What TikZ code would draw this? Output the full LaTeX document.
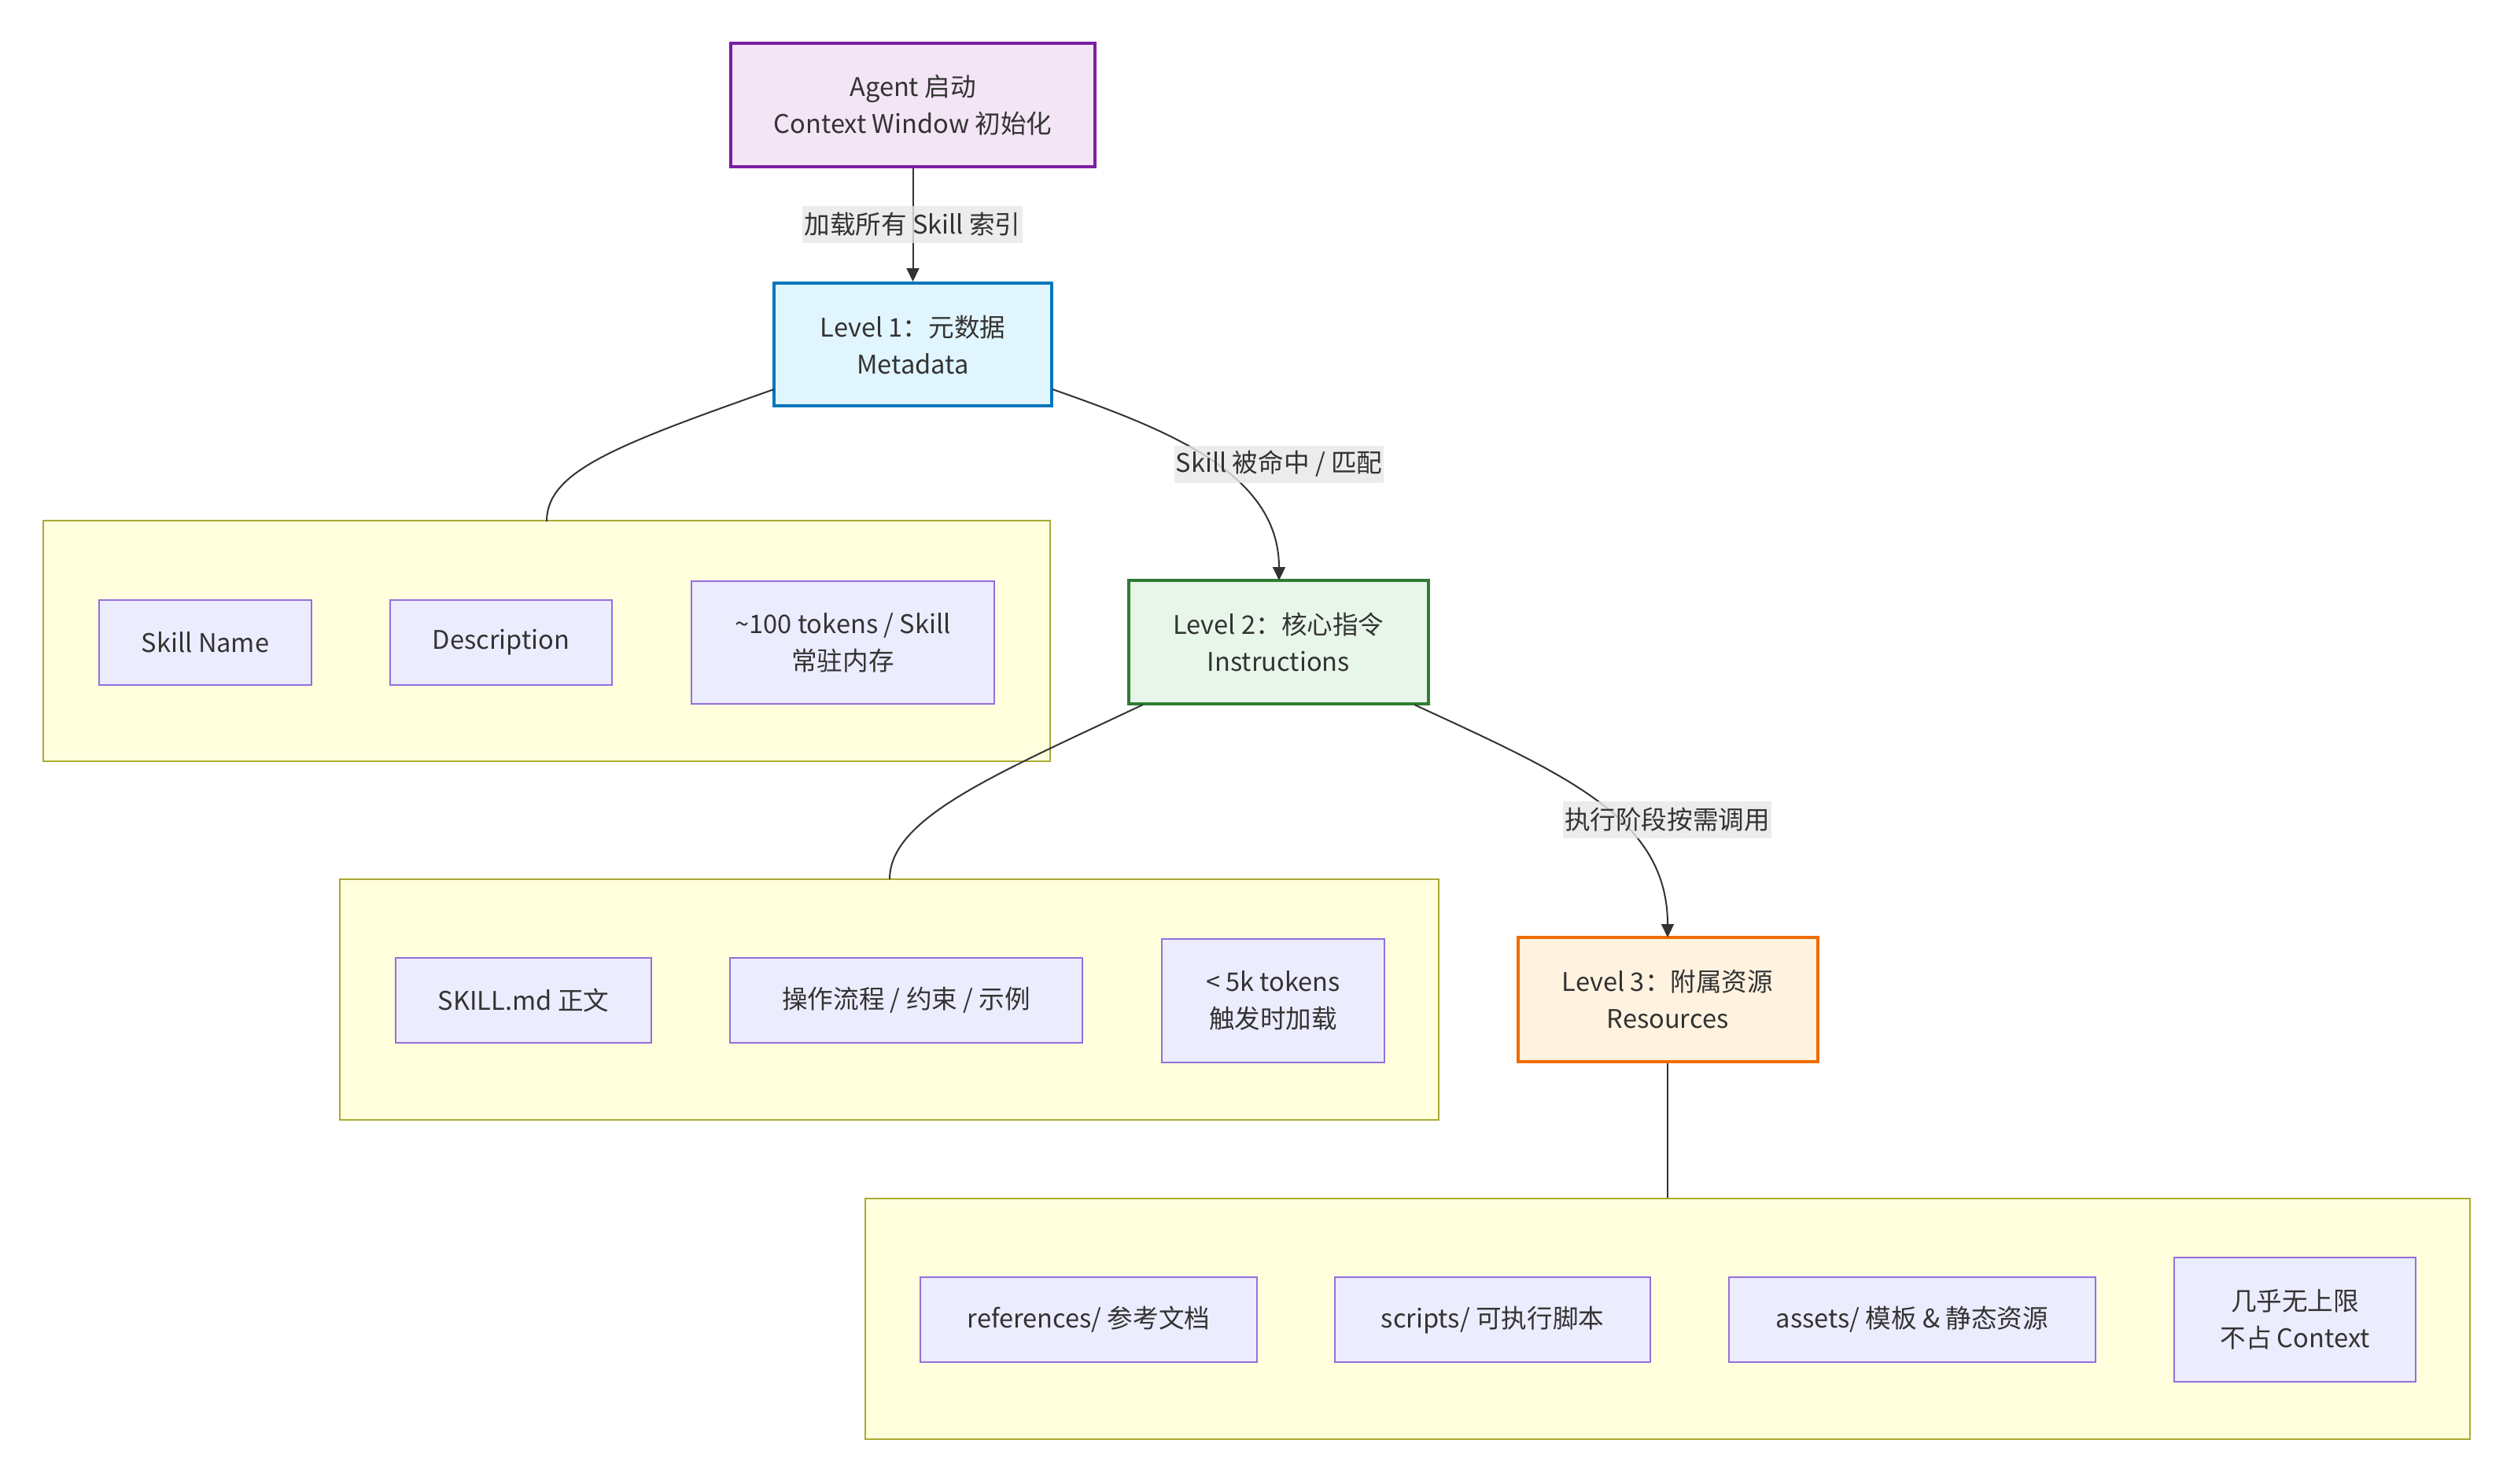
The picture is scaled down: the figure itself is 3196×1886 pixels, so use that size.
\documentclass[tikz,border=0pt]{standalone}
\usepackage{fontspec}
\setmainfont{Noto Sans CJK SC}
\usetikzlibrary{arrows.meta}
\definecolor{ink}{HTML}{333333}
\definecolor{agentfill}{HTML}{F3E5F5}\definecolor{agentdraw}{HTML}{7B1FA2}
\definecolor{lonefill}{HTML}{E1F5FE}\definecolor{lonedraw}{HTML}{0277BD}
\definecolor{ltwofill}{HTML}{E8F5E9}\definecolor{ltwodraw}{HTML}{2E7D32}
\definecolor{lthreefill}{HTML}{FFF3E0}\definecolor{lthreedraw}{HTML}{EF6C00}
\definecolor{grpfill}{HTML}{FFFFDE}\definecolor{grpdraw}{HTML}{AAAA33}
\definecolor{itemfill}{HTML}{ECECFF}\definecolor{itemdraw}{HTML}{9370DB}
\definecolor{lblbg}{HTML}{E8E8E8}
\begin{document}
\begin{tikzpicture}[x=0.5pt,y=-0.5pt,
  every node/.style={text=ink,font=\fontsize{16.3}{23.5}\selectfont,align=center,inner sep=0pt},
  lvlbox/.style={draw,line width=2pt,rectangle},
  grpbox/.style={draw=grpdraw,fill=grpfill,line width=1pt,rectangle},
  itembox/.style={draw=itemdraw,fill=itemfill,line width=1pt,rectangle},
  edgelbl/.style={fill=lblbg,fill opacity=0.8,text opacity=1,inner xsep=1pt,minimum height=23.5pt},
  conn/.style={draw=ink,line width=1pt},
  arr/.style={conn,-{Triangle[length=8.5pt,width=8pt]}}]
\fill[white] (0,0) rectangle (3196,1886);
\useasboundingbox (0,0) rectangle (3196,1886);

% groups
\node[grpbox,minimum width=640pt,minimum height=153pt] (g1) at (695,815) {};
\node[grpbox,minimum width=698.5pt,minimum height=153pt] (g2) at (1130.5,1271) {};
\node[grpbox,minimum width=1020pt,minimum height=153pt] (g3) at (2120,1677) {};

% level nodes
\node[lvlbox,draw=agentdraw,fill=agentfill,minimum width=231.5pt,minimum height=78.5pt] (agent) at (1160.5,133.5) {Agent 启动\\Context Window 初始化};
\node[lvlbox,draw=lonedraw,fill=lonefill,minimum width=176.5pt,minimum height=78pt] (l1) at (1160.5,438) {Level 1：元数据\\Metadata};
\node[lvlbox,draw=ltwodraw,fill=ltwofill,minimum width=190.5pt,minimum height=78.5pt] (l2) at (1625.5,816.5) {Level 2：核心指令\\Instructions};
\node[lvlbox,draw=lthreedraw,fill=lthreefill,minimum width=190.5pt,minimum height=79pt] (l3) at (2120,1271) {Level 3：附属资源\\Resources};

% group 1 items
\node[itembox,minimum width=135pt,minimum height=54pt] (sname) at (261,817) {Skill Name};
\node[itembox,minimum width=141pt,minimum height=54pt] (sdesc) at (637,817) {Description};
\node[itembox,minimum width=192.5pt,minimum height=78pt] (stok) at (1071.5,817) {\textasciitilde100 tokens / Skill\\常驻内存};

% group 2 items
\node[itembox,minimum width=162.5pt,minimum height=54pt] (smd) at (665.5,1272) {SKILL.md 正文};
\node[itembox,minimum width=224pt,minimum height=54pt] (sflow) at (1152,1272) {操作流程 / 约束 / 示例};
\node[itembox,minimum width=141.5pt,minimum height=78.5pt] (sfive) at (1618.5,1272.5) {< 5k tokens\\触发时加载};

% group 3 items
\node[itembox,minimum width=214pt,minimum height=54pt] (refs) at (1384,1678) {references/ 参考文档};
\node[itembox,minimum width=200.5pt,minimum height=54pt] (scr) at (1897.5,1678) {scripts/ 可执行脚本};
\node[itembox,minimum width=233pt,minimum height=54pt] (ast) at (2431,1678) {assets/ 模板 \& 静态资源};
\node[itembox,minimum width=153.5pt,minimum height=79pt] (unl) at (2917.5,1678) {几乎无上限\\不占 Context};

% connector anchor points
\coordinate (l1w) at (984,495);
\coordinate (l1e) at (1338,495);
\coordinate (g1t) at (695,663);
\coordinate (l2w) at (1453,896);
\coordinate (l2e) at (1798,896);
\coordinate (g2t) at (1131,1118);
\coordinate (l2t) at (1626,738);
\coordinate (l3t) at (2120,1192);

% connectors
\draw[arr] (agent.south) -- (l1.north);
\draw[conn] (l1w) .. controls (780,567) and (695,600) .. (g1t);
\draw[arr] (l1e) .. controls (1480,545) and (1626,600) .. (l2t);
\draw[conn] (l2w) .. controls (1265,985) and (1131,1040) .. (g2t);
\draw[arr] (l2e) .. controls (1990,985) and (2120,1040) .. (l3t);
\draw[conn] (l3.south) -- (g3.north);

% edge labels
\node[edgelbl] (e1) at (1160,285.5) {加载所有 Skill 索引};
\node[edgelbl] (e2) at (1626,590) {Skill 被命中 / 匹配};
\node[edgelbl] (e3) at (2119.5,1042.5) {执行阶段按需调用};
\end{tikzpicture}
\end{document}
